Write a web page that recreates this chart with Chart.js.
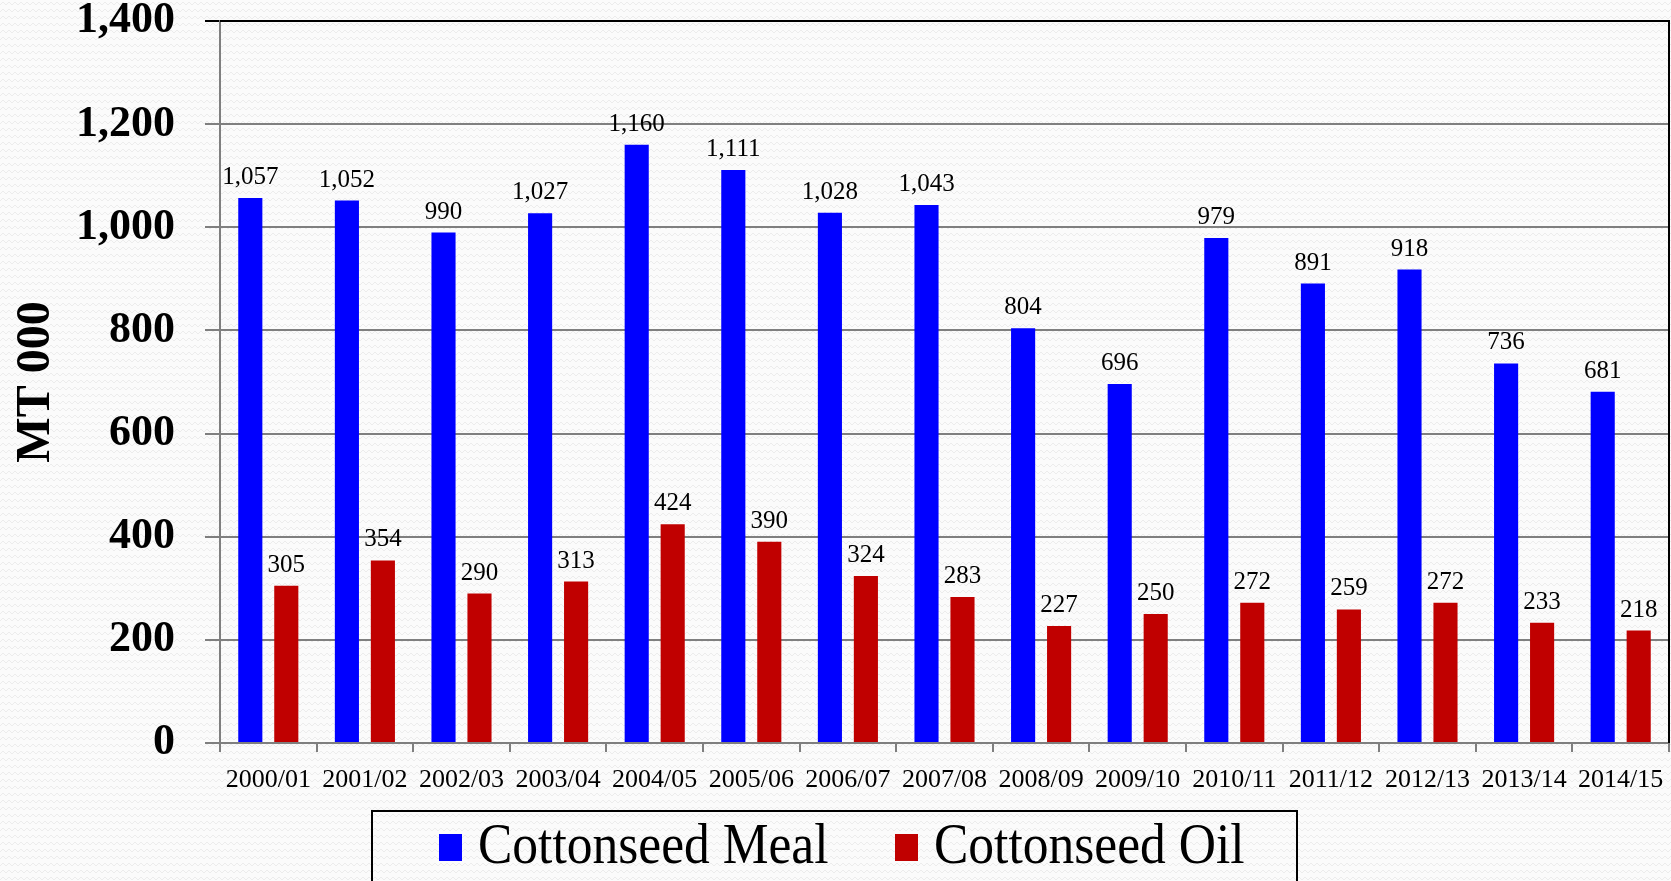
<!DOCTYPE html>
<html>
<head>
<meta charset="utf-8">
<script src="https://cdn.jsdelivr.net/npm/chart.js@4.4.1/dist/chart.umd.min.js"></script>
<style>
    html, body {
        margin: 0;
        padding: 0;
        width: 1671px;
        height: 881px;
        overflow: hidden;
        background-color: #fbfbfb;
        background-image: url("data:image/svg+xml,%3Csvg xmlns='http://www.w3.org/2000/svg' width='12' height='7'%3E%3Cpath d='M0 5 L3 2 L6 5 L9 2 L12 5' fill='none' stroke='%23ececec' stroke-width='1'/%3E%3C/svg%3E");
    }
    #wrap {
        position: relative;
        width: 1671px;
        height: 881px;
    }
    #legend {
        position: absolute;
        left: 371px;
        top: 810px;
        width: 923px;
        height: 90px;
        border: 2px solid #000;
        font-family: 'Liberation Serif', 'DejaVu Serif', serif;
        font-size: 56px;
        color: #000;
    }
    #legend .item {
        position: absolute;
        top: 0;
        height: 70px;
    }
    #legend .swatch {
        position: absolute;
        left: 0;
        top: 22px;
        width: 23px;
        height: 27px;
    }
    #legend .txt {
        position: absolute;
        left: 39px;
        top: -3px;
        white-space: nowrap;
        transform: scaleX(0.92);
        transform-origin: left center;
        line-height: 70px;
    }
</style>
</head>
<body>
<div id="wrap">
    <canvas id="chart"></canvas>
    <div id="legend"></div>
</div>
<script>
const seasons = ['2000/01', '2001/02', '2002/03', '2003/04', '2004/05', '2005/06', '2006/07', '2007/08',
    '2008/09', '2009/10', '2010/11', '2011/12', '2012/13', '2013/14', '2014/15'];
const mealValues = [1057, 1052, 990, 1027, 1160, 1111, 1028, 1043, 804, 696, 979, 891, 918, 736, 681];
const oilValues = [305, 354, 290, 313, 424, 390, 324, 283, 227, 250, 272, 259, 272, 233, 218];
const yTicks = [0, 200, 400, 600, 800, 1000, 1200, 1400];
const seriesNames = ['Cottonseed Meal', 'Cottonseed Oil'];
const seriesColors = ['#0000ff', '#c00000'];

const serif = "'Liberation Serif', 'DejaVu Serif', serif";

// valeurs au-dessus des barres
const barLabels = {
    id: 'barLabels',
    afterDatasetsDraw(chart) {
        const ctx = chart.ctx;
        ctx.save();
        ctx.font = `25px ${serif}`;
        ctx.fillStyle = '#000';
        ctx.textAlign = 'center';
        ctx.textBaseline = 'bottom';
        chart.data.datasets.forEach((ds, i) => {
            chart.getDatasetMeta(i).data.forEach((bar, j) => {
                ctx.fillText(ds.data[j].toLocaleString('en-US'), bar.x, bar.y - 8);
            });
        });
        ctx.restore();
    },
};

// cadre noir haut/droite
const frame = {
    id: 'frame',
    afterDraw(chart) {
        const { ctx, chartArea } = chart;
        ctx.save();
        ctx.strokeStyle = '#000';
        ctx.lineWidth = 2;
        ctx.beginPath();
        ctx.moveTo(chartArea.left, chartArea.top);
        ctx.lineTo(chartArea.right, chartArea.top);
        ctx.lineTo(chartArea.right, chartArea.bottom);
        ctx.stroke();
        ctx.restore();
    },
};

const chart = new Chart(document.getElementById('chart'), {
    type: 'bar',
    data: {
        labels: seasons,
        datasets: seriesNames.map((name, i) => ({
            label: name,
            data: i === 0 ? mealValues : oilValues,
            backgroundColor: seriesColors[i],
            categoryPercentage: 0.745,
            barPercentage: 0.67,
        })),
    },
    options: {
        responsive: true,
        maintainAspectRatio: false,
        animation: false,
        layout: { padding: { top: 21, right: 2, left: 0, bottom: 72 } },
        plugins: {
            legend: { display: false },
            tooltip: { enabled: false },
        },
        scales: {
            x: {
                afterFit: (s) => {
                    s.height = 66;
                    s.paddingLeft = 0;
                    s.paddingRight = 0;
                },
                grid: {
                    display: true,
                    offset: true,
                    drawOnChartArea: false,
                    color: '#7f7f7f',
                    lineWidth: 2,
                    tickLength: 9,
                },
                border: { color: '#7f7f7f', width: 2 },
                ticks: {
                    color: '#000',
                    font: { family: serif, size: 26 },
                    padding: 13,
                    maxRotation: 0,
                    autoSkip: false,
                },
            },
            y: {
                min: 0,
                max: 1400,
                afterFit: (s) => {
                    s.width = 220;
                    s.paddingTop = 0;
                    s.paddingBottom = 0;
                },
                afterBuildTicks: (s) => { s.ticks = yTicks.map((v) => ({ value: v })); },
                grid: {
                    color: (c) => (c.tick && c.tick.value === 1400 ? '#000' : '#7f7f7f'),
                    lineWidth: 2,
                    tickLength: 15,
                },
                border: { color: '#7f7f7f', width: 2 },
                ticks: {
                    color: '#000',
                    font: { family: serif, size: 44, weight: 'bold' },
                    padding: 30,
                    callback: (v) => v.toLocaleString('en-US'),
                },
                title: {
                    display: true,
                    text: 'MT 000',
                    color: '#000',
                    font: { family: serif, size: 48, weight: 'bold' },
                    padding: { top: 8, bottom: 0 },
                },
            },
        },
    },
    plugins: [barLabels, frame],
});

// légende HTML encadrée
const legendEl = document.getElementById('legend');
const legendLeft = [66, 522];
chart.data.datasets.forEach((ds, i) => {
    const item = document.createElement('div');
    item.className = 'item';
    item.style.left = legendLeft[i] + 'px';
    const sw = document.createElement('span');
    sw.className = 'swatch';
    sw.style.background = ds.backgroundColor;
    const tx = document.createElement('span');
    tx.className = 'txt';
    tx.textContent = ds.label;
    item.appendChild(sw);
    item.appendChild(tx);
    legendEl.appendChild(item);
});
</script>
</body>
</html>
